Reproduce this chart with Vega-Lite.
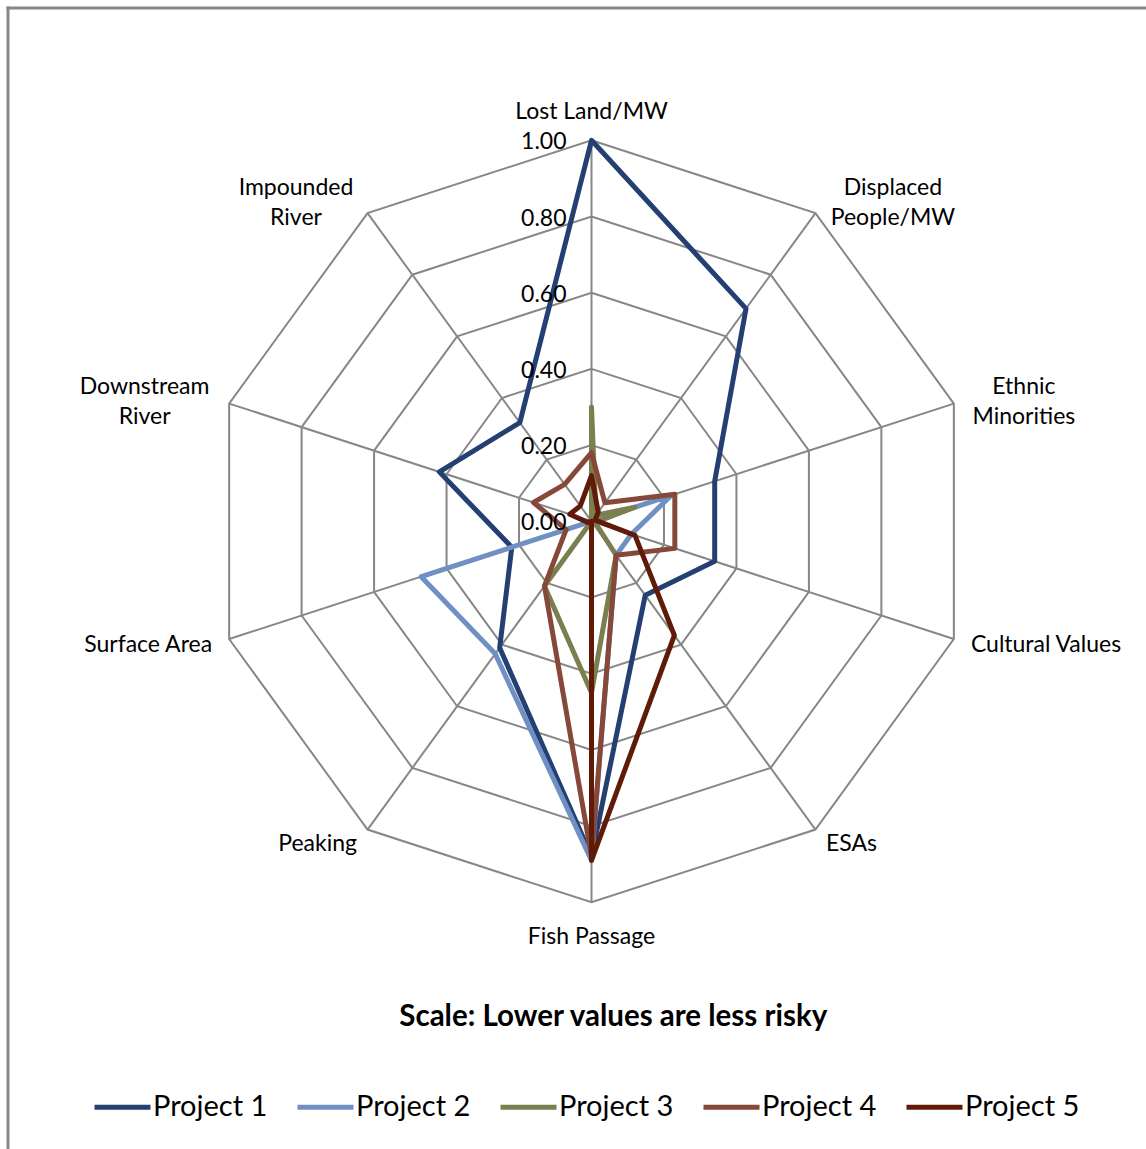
{
  "$schema": "https://vega.github.io/schema/vega-lite/v6.json",
  "width": 1138.5,
  "height": 1141.5,
  "padding": {"left": 7.5, "top": 7.5, "right": 0, "bottom": 0},
  "autosize": {"type": "none"},
  "background": "white",
  "config": {
    "view": {"stroke": null},
    "font": "Lato",
    "legend": {
      "orient": "none",
      "legendX": 84.5,
      "legendY": 1069,
      "direction": "horizontal",
      "columns": 5,
      "symbolType": "stroke",
      "symbolSize": 3136,
      "symbolStrokeWidth": 5,
      "labelFont": "Lato",
      "labelFontSize": 29,
      "labelColor": "black",
      "labelOffset": 0,
      "columnPadding": 19,
      "padding": 0,
      "labelLimit": 400
    }
  },
  "title": {
    "text": "Scale: Lower values are less risky",
    "orient": "bottom",
    "frame": "group",
    "anchor": "middle",
    "offset": -146,
    "dx": 36.5,
    "font": "Lato",
    "fontSize": 29.5,
    "fontWeight": "bold",
    "color": "black"
  },
  "datasets": {
    "axes": [
      {"axis": "Lost Land/MW", "label": "Lost Land/MW", "i": 0},
      {"axis": "Displaced People/MW", "label": "Displaced\nPeople/MW", "i": 1},
      {"axis": "Ethnic Minorities", "label": "Ethnic\nMinorities", "i": 2},
      {"axis": "Cultural Values", "label": "Cultural Values", "i": 3},
      {"axis": "ESAs", "label": "ESAs", "i": 4},
      {"axis": "Fish Passage", "label": "Fish Passage", "i": 5},
      {"axis": "Peaking", "label": "Peaking", "i": 6},
      {"axis": "Surface Area", "label": "Surface Area", "i": 7},
      {"axis": "Downstream River", "label": "Downstream\nRiver", "i": 8},
      {"axis": "Impounded River", "label": "Impounded\nRiver", "i": 9}
    ],
    "levels": [
      {"level": 0, "i": []},
      {"level": 0.2, "i": [0, 1, 2, 3, 4, 5, 6, 7, 8, 9]},
      {"level": 0.4, "i": [0, 1, 2, 3, 4, 5, 6, 7, 8, 9]},
      {"level": 0.6, "i": [0, 1, 2, 3, 4, 5, 6, 7, 8, 9]},
      {"level": 0.8, "i": [0, 1, 2, 3, 4, 5, 6, 7, 8, 9]},
      {"level": 1.0, "i": [0, 1, 2, 3, 4, 5, 6, 7, 8, 9]}
    ],
    "scores": [
      {"project": "Project 1", "axis": "Lost Land/MW", "value": 1.0},
      {"project": "Project 1", "axis": "Displaced People/MW", "value": 0.69},
      {"project": "Project 1", "axis": "Ethnic Minorities", "value": 0.34},
      {"project": "Project 1", "axis": "Cultural Values", "value": 0.34},
      {"project": "Project 1", "axis": "ESAs", "value": 0.24},
      {"project": "Project 1", "axis": "Fish Passage", "value": 0.88},
      {"project": "Project 1", "axis": "Peaking", "value": 0.41},
      {"project": "Project 1", "axis": "Surface Area", "value": 0.22},
      {"project": "Project 1", "axis": "Downstream River", "value": 0.42},
      {"project": "Project 1", "axis": "Impounded River", "value": 0.32},
      {"project": "Project 2", "axis": "Lost Land/MW", "value": 0.0},
      {"project": "Project 2", "axis": "Displaced People/MW", "value": 0.0},
      {"project": "Project 2", "axis": "Ethnic Minorities", "value": 0.22},
      {"project": "Project 2", "axis": "Cultural Values", "value": 0.11},
      {"project": "Project 2", "axis": "ESAs", "value": 0.11},
      {"project": "Project 2", "axis": "Fish Passage", "value": 0.89},
      {"project": "Project 2", "axis": "Peaking", "value": 0.43},
      {"project": "Project 2", "axis": "Surface Area", "value": 0.47},
      {"project": "Project 2", "axis": "Downstream River", "value": 0.0},
      {"project": "Project 2", "axis": "Impounded River", "value": 0.0},
      {"project": "Project 3", "axis": "Lost Land/MW", "value": 0.3},
      {"project": "Project 3", "axis": "Displaced People/MW", "value": 0.02},
      {"project": "Project 3", "axis": "Ethnic Minorities", "value": 0.12},
      {"project": "Project 3", "axis": "Cultural Values", "value": 0.01},
      {"project": "Project 3", "axis": "ESAs", "value": 0.11},
      {"project": "Project 3", "axis": "Fish Passage", "value": 0.45},
      {"project": "Project 3", "axis": "Peaking", "value": 0.21},
      {"project": "Project 3", "axis": "Surface Area", "value": 0.0},
      {"project": "Project 3", "axis": "Downstream River", "value": 0.0},
      {"project": "Project 3", "axis": "Impounded River", "value": 0.0},
      {"project": "Project 4", "axis": "Lost Land/MW", "value": 0.18},
      {"project": "Project 4", "axis": "Displaced People/MW", "value": 0.06},
      {"project": "Project 4", "axis": "Ethnic Minorities", "value": 0.23},
      {"project": "Project 4", "axis": "Cultural Values", "value": 0.23},
      {"project": "Project 4", "axis": "ESAs", "value": 0.11},
      {"project": "Project 4", "axis": "Fish Passage", "value": 0.88},
      {"project": "Project 4", "axis": "Peaking", "value": 0.21},
      {"project": "Project 4", "axis": "Surface Area", "value": 0.07},
      {"project": "Project 4", "axis": "Downstream River", "value": 0.16},
      {"project": "Project 4", "axis": "Impounded River", "value": 0.12},
      {"project": "Project 5", "axis": "Lost Land/MW", "value": 0.12},
      {"project": "Project 5", "axis": "Displaced People/MW", "value": 0.03},
      {"project": "Project 5", "axis": "Ethnic Minorities", "value": 0.01},
      {"project": "Project 5", "axis": "Cultural Values", "value": 0.12},
      {"project": "Project 5", "axis": "ESAs", "value": 0.37},
      {"project": "Project 5", "axis": "Fish Passage", "value": 0.89},
      {"project": "Project 5", "axis": "Peaking", "value": 0.0},
      {"project": "Project 5", "axis": "Surface Area", "value": 0.01},
      {"project": "Project 5", "axis": "Downstream River", "value": 0.06},
      {"project": "Project 5", "axis": "Impounded River", "value": 0.05}
    ]
  },
  "encoding": {
    "x": {
      "field": "x",
      "type": "quantitative",
      "scale": {"domain": [-1.5328, 1.4554], "nice": false, "zero": false},
      "axis": {"orient": "top", "domain": true, "domainColor": "#878787", "domainWidth": 3, "domainCap": "square", "ticks": false, "labels": false, "grid": false, "title": null}
    },
    "y": {
      "field": "y",
      "type": "quantitative",
      "scale": {"domain": [-1.6475, 1.3486], "nice": false, "zero": false},
      "axis": {"orient": "left", "domain": true, "domainColor": "#878787", "domainWidth": 3, "domainCap": "square", "ticks": false, "labels": false, "grid": false, "title": null}
    }
  },
  "layer": [
    {
      "data": {"name": "levels"},
      "transform": [
        {"flatten": ["i"]},
        {"calculate": "datum.level * sin(datum.i * PI / 5)", "as": "x"},
        {"calculate": "datum.level * cos(datum.i * PI / 5)", "as": "y"}
      ],
      "mark": {"type": "line", "interpolate": "linear-closed", "stroke": "#878787", "strokeWidth": 2},
      "encoding": {
        "detail": {"field": "level", "type": "nominal"},
        "order": {"field": "i", "type": "quantitative"}
      }
    },
    {
      "data": {"name": "axes"},
      "transform": [
        {"calculate": "sin(datum.i * PI / 5)", "as": "x"},
        {"calculate": "cos(datum.i * PI / 5)", "as": "y"}
      ],
      "mark": {"type": "rule", "stroke": "#878787", "strokeWidth": 2},
      "encoding": {
        "x2": {"datum": 0},
        "y2": {"datum": 0}
      }
    },
    {
      "data": {"name": "scores"},
      "transform": [
        {"lookup": "axis", "from": {"data": {"name": "axes"}, "key": "axis", "fields": ["i"]}},
        {"calculate": "datum.value * sin(datum.i * PI / 5)", "as": "x"},
        {"calculate": "datum.value * cos(datum.i * PI / 5)", "as": "y"}
      ],
      "mark": {"type": "line", "interpolate": "linear-closed", "strokeWidth": 5, "strokeCap": "round", "strokeJoin": "round"},
      "encoding": {
        "color": {
          "field": "project",
          "type": "nominal",
          "scale": {
            "domain": ["Project 1", "Project 2", "Project 3", "Project 4", "Project 5"],
            "range": ["#243F72", "#7090C4", "#7B7E4E", "#864838", "#5F1B07"]
          },
          "legend": {"title": null}
        },
        "order": {"field": "i", "type": "quantitative"}
      }
    },
    {
      "data": {"name": "axes"},
      "transform": [
        {"filter": "datum.i == 0"},
        {"calculate": "1.047 * sin(datum.i * PI / 5)", "as": "x"},
        {"calculate": "1.047 * cos(datum.i * PI / 5)", "as": "y"}
      ],
      "mark": {"type": "text", "font": "Lato", "fontSize": 23, "color": "black", "align": "center", "baseline": "alphabetic", "dy": -3},
      "encoding": {"text": {"field": "label"}}
    },
    {
      "data": {"name": "axes"},
      "transform": [
        {"filter": "datum.i == 5"},
        {"calculate": "1.047 * sin(datum.i * PI / 5)", "as": "x"},
        {"calculate": "1.047 * cos(datum.i * PI / 5)", "as": "y"}
      ],
      "mark": {"type": "text", "font": "Lato", "fontSize": 23, "color": "black", "align": "center", "baseline": "alphabetic", "dy": 24},
      "encoding": {"text": {"field": "label"}}
    },
    {
      "data": {"name": "axes"},
      "transform": [
        {"filter": "datum.i == 3 || datum.i == 4"},
        {"calculate": "1.047 * sin(datum.i * PI / 5)", "as": "x"},
        {"calculate": "1.047 * cos(datum.i * PI / 5)", "as": "y"}
      ],
      "mark": {"type": "text", "font": "Lato", "fontSize": 23, "color": "black", "align": "left", "baseline": "middle"},
      "encoding": {"text": {"field": "label"}}
    },
    {
      "data": {"name": "axes"},
      "transform": [
        {"filter": "datum.i == 6 || datum.i == 7"},
        {"calculate": "1.047 * sin(datum.i * PI / 5)", "as": "x"},
        {"calculate": "1.047 * cos(datum.i * PI / 5)", "as": "y"}
      ],
      "mark": {"type": "text", "font": "Lato", "fontSize": 23, "color": "black", "align": "right", "baseline": "middle"},
      "encoding": {"text": {"field": "label"}}
    },
    {
      "data": {"name": "axes"},
      "transform": [
        {"filter": "datum.i == 1"},
        {"calculate": "1.047 * sin(datum.i * PI / 5)", "as": "x"},
        {"calculate": "1.047 * cos(datum.i * PI / 5)", "as": "y"}
      ],
      "mark": {"type": "text", "font": "Lato", "fontSize": 23, "color": "black", "align": "center", "baseline": "middle", "lineBreak": "\n", "lineHeight": 30, "dx": 67, "dy": -11},
      "encoding": {"text": {"field": "label"}}
    },
    {
      "data": {"name": "axes"},
      "transform": [
        {"filter": "datum.i == 2"},
        {"calculate": "1.047 * sin(datum.i * PI / 5)", "as": "x"},
        {"calculate": "1.047 * cos(datum.i * PI / 5)", "as": "y"}
      ],
      "mark": {"type": "text", "font": "Lato", "fontSize": 23, "color": "black", "align": "center", "baseline": "middle", "lineBreak": "\n", "lineHeight": 30, "dx": 53, "dy": -11},
      "encoding": {"text": {"field": "label"}}
    },
    {
      "data": {"name": "axes"},
      "transform": [
        {"filter": "datum.i == 8"},
        {"calculate": "1.047 * sin(datum.i * PI / 5)", "as": "x"},
        {"calculate": "1.047 * cos(datum.i * PI / 5)", "as": "y"}
      ],
      "mark": {"type": "text", "font": "Lato", "fontSize": 23, "color": "black", "align": "center", "baseline": "middle", "lineBreak": "\n", "lineHeight": 30, "dx": -67.5, "dy": -11},
      "encoding": {"text": {"field": "label"}}
    },
    {
      "data": {"name": "axes"},
      "transform": [
        {"filter": "datum.i == 9"},
        {"calculate": "1.047 * sin(datum.i * PI / 5)", "as": "x"},
        {"calculate": "1.047 * cos(datum.i * PI / 5)", "as": "y"}
      ],
      "mark": {"type": "text", "font": "Lato", "fontSize": 23, "color": "black", "align": "center", "baseline": "middle", "lineBreak": "\n", "lineHeight": 30, "dx": -61, "dy": -11},
      "encoding": {"text": {"field": "label"}}
    },
    {
      "data": {"name": "levels"},
      "transform": [
        {"calculate": "datum.level * sin(0)", "as": "x"},
        {"calculate": "datum.level", "as": "y"}
      ],
      "mark": {"type": "text", "font": "Lato", "fontSize": 23, "color": "black", "align": "right", "baseline": "middle", "dx": -25, "dy": 2},
      "encoding": {"text": {"field": "level", "type": "quantitative", "format": ".2f"}}
    }
  ]
}
